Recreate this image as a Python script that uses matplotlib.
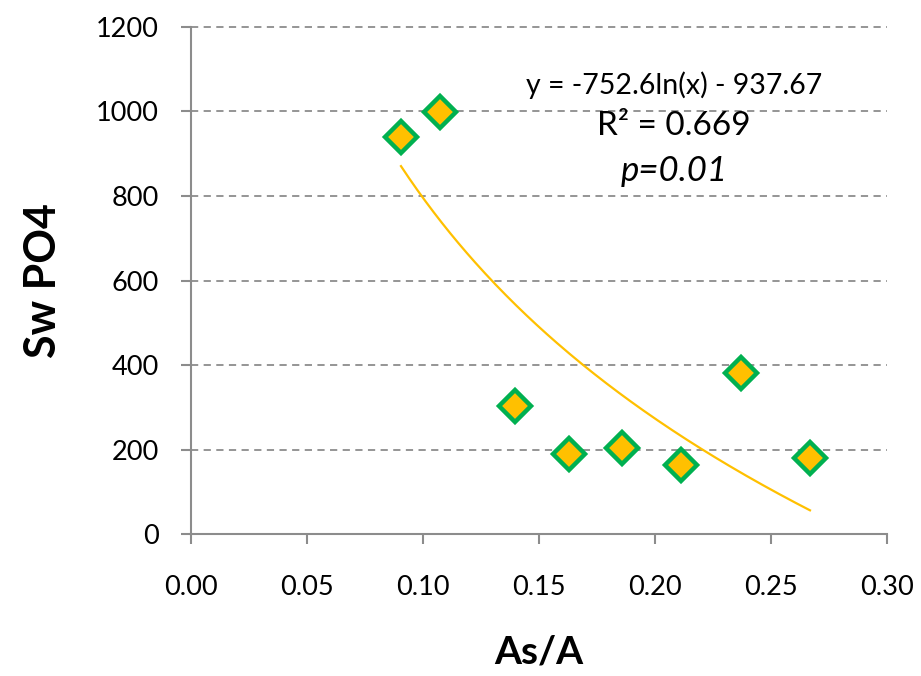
import numpy as np
import matplotlib
matplotlib.use("Agg")
import matplotlib.pyplot as plt

plt.rcParams['font.family'] = ['Lato', 'DejaVu Sans']

x_vals = [0.0905, 0.1073, 0.1397, 0.1630, 0.1858, 0.2110, 0.2370, 0.2668]
y_vals = [939, 998, 303, 190, 204, 164, 381, 180]
coef_a = -752.6
coef_b = -937.67
x_ticks = [0.00, 0.05, 0.10, 0.15, 0.20, 0.25, 0.30]
y_ticks = [0, 200, 400, 600, 800, 1000, 1200]

fig = plt.figure(figsize=(9.21, 6.76), dpi=100)
ax = fig.add_axes([0.2074, 0.2096, 0.7557, 0.7509])

xf = np.linspace(min(x_vals), max(x_vals), 200)
yf = coef_a * np.log(xf) + coef_b
ax.plot(xf, yf, color='#FFC000', lw=1.6, zorder=2)

ax.plot(x_vals, y_vals, linestyle='none', marker='D', markersize=16.5,
        markerfacecolor='#FFC000', markeredgecolor='#00B050', markeredgewidth=3.2, zorder=3)

ax.set_xlim(0, 0.30)
ax.set_ylim(0, 1200)
ax.set_xticks(x_ticks)
ax.set_xticklabels([f"{v:.2f}" for v in x_ticks])
ax.set_yticks(y_ticks)
ax.set_yticklabels([str(v) for v in y_ticks])

for v in y_ticks[1:]:
    ax.axhline(v, color='#8C8C8C', lw=1.3, linestyle=(0, (4, 3)), zorder=1, clip_on=False)

for s in ['top', 'right']:
    ax.spines[s].set_visible(False)
for s in ['left', 'bottom']:
    ax.spines[s].set_color('#8C8C8C')
    ax.spines[s].set_linewidth(1.5)

ax.tick_params(axis='both', colors='#8C8C8C', width=1.5, length=7, labelsize=19.5, labelcolor='black')
ax.tick_params(axis='x', pad=22)
ax.tick_params(axis='y', pad=16)

ax.set_xlabel('As/A', fontsize=28, fontweight='bold', labelpad=25)
ax.set_ylabel('Sw PO4', fontsize=31, fontweight='bold', labelpad=24)

ax.text(0.2082, 1062, 'y = -752.6ln(x) - 937.67', fontsize=20.5, ha='center', va='center')
ax.text(0.2082, 966, 'R² = 0.669', fontsize=24, ha='center', va='center')
ax.text(0.2082, 860, 'p=0.01', fontsize=25, ha='center', va='center', style='italic')

fig.savefig('out.png', dpi=100)
